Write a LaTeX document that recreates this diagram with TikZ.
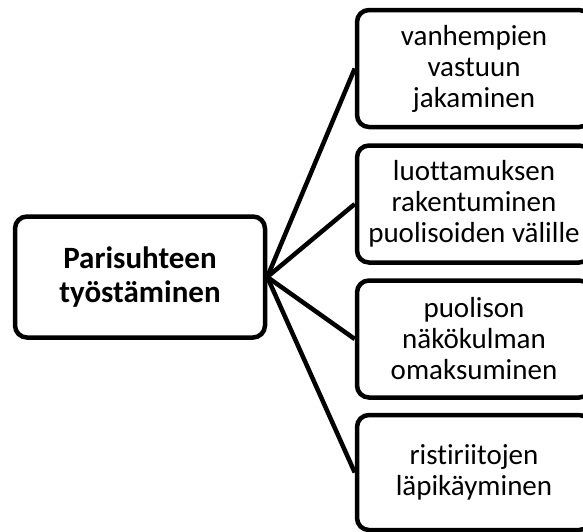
\documentclass[tikz,border=0pt]{standalone}
\usepackage{fontspec}
\setmainfont{Carlito}[Ligatures=NoCommon]
\begin{document}
\begin{tikzpicture}[x=1pt,y=-1pt,
  box/.style={draw, line width=4.5pt, rounded corners=12pt, align=center, inner sep=0pt},
  rootbox/.style={box, minimum width=250pt, minimum height=121pt, font=\fontsize{31}{34}\selectfont\bfseries},
  leafbox/.style={box, minimum width=234pt, minimum height=117pt, font=\fontsize{29}{31}\selectfont},
  link/.style={line width=4.5pt}]

  \useasboundingbox (0,0) rectangle (583,531);

  \pgfmathsetmacro{\leafx}{474}

  \node[rootbox] (root) at (140,277) {Parisuhteen\\työstäminen};

  % Right-hand boxes
  \node[leafbox] (leaf1) at (\leafx,68.5) {vanhempien\\vastuun\\jakaminen};
  \node[leafbox] (leaf2) at (\leafx,204) {luottamuksen\\rakentuminen\\puolisoiden välille};
  \node[leafbox] (leaf3) at (\leafx,339) {puolison\\näkökulman\\omaksuminen};
  \node[leafbox, minimum height=115pt] (leaf4) at (\leafx,472.5) {ristiriitojen\\läpikäyminen};

  % Connectors
  \foreach \i in {1,...,4}{
    \draw[link] (root.east) -- (leaf\i.west);
  }

\end{tikzpicture}
\end{document}
